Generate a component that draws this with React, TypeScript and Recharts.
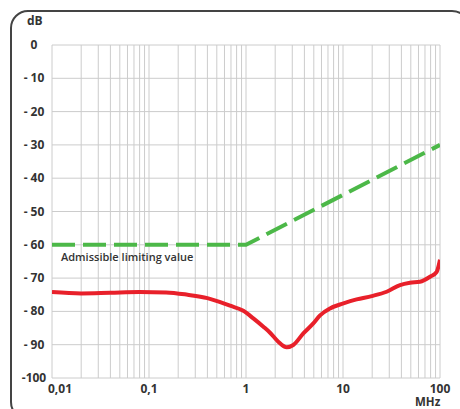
import React from "react";
import { LineChart, Line, XAxis, YAxis, CartesianGrid } from "recharts";

const redFreq = [0.01, 0.02, 0.04, 0.08, 0.15, 0.25, 0.4, 0.684, 0.938, 1.19, 1.51, 1.77, 2.15, 2.63, 3.07, 3.9, 4.94, 5.8, 7.35, 10.1, 13.8, 19.8, 28.2, 38.7, 49, 62, 79, 92.5, 100];
const redDb = [-74.2, -74.6, -74.4, -74.2, -74.3, -75, -76, -78.3, -79.8, -82.1, -84.6, -86.4, -89.1, -90.8, -90.1, -86.6, -83.6, -81.2, -79.1, -77.6, -76.4, -75.4, -74.1, -72.1, -71.4, -71.1, -69.6, -68.1, -64.5];

const limitFreq = [0.01, 1, 100];
const limitDb = [-60, -60, -30];

const yTicks = [0, -10, -20, -30, -40, -50, -60, -70, -80, -90, -100];
const yLabels = ["0", "- 10", "- 20", "- 30", "- 40", "- 50", "- 60", "- 70", "- 80", "- 90", "-100"];

const xDecades = [0.01, 0.1, 1, 10, 100];
const xLabels = ["0,01", "0,1", "1", "10", "100"];

const xGrid = [
  0.01, 0.02, 0.03, 0.04, 0.05, 0.06, 0.07, 0.08, 0.09,
  0.1, 0.2, 0.3, 0.4, 0.5, 0.6, 0.7, 0.8, 0.9,
  1, 2, 3, 4, 5, 6, 7, 8, 9,
  10, 20, 30, 40, 50, 60, 70, 80, 90,
  100,
];

const redData = redFreq.map((x, i) => ({ x, y: redDb[i] }));
const limitData = limitFreq.map((x, i) => ({ x, y: limitDb[i] }));

const FONT = "'Open Sans', sans-serif";

const YTick = (props: any) => {
  const { y, payload } = props;
  const idx = yTicks.indexOf(payload.value);
  if (idx < 0) return null;
  return (
    <text x={34} y={y} dy={4} textAnchor="middle" fontFamily={FONT} fontWeight={700} fontSize={12} fill="#333">
      {yLabels[idx]}
    </text>
  );
};

const XTick = (props: any) => {
  const { x, payload } = props;
  const idx = xDecades.findIndex((d) => Math.abs(d - payload.value) < 1e-9);
  if (idx < 0) return null;
  const shift = idx === 0 ? 8 : 0;
  return (
    <text x={x + shift} y={393} textAnchor="middle" fontFamily={FONT} fontWeight={700} fontSize={12} fill="#333">
      {xLabels[idx]}
    </text>
  );
};

export default function App() {
  return (
    <div style={{ position: "absolute", left: 0, top: 0, width: 460, height: 409, overflow: "hidden", background: "#fff" }}>
      <div
        style={{
          position: "absolute",
          left: 10,
          top: 10,
          width: 460,
          height: 410,
          border: "2px solid #444",
          borderRadius: 18,
          boxSizing: "border-box",
        }}
      />
      <div style={{ position: "absolute", left: 0, top: 0 }}>
        <LineChart width={460} height={409} margin={{ top: 45, right: 20, bottom: 1, left: 0 }}>
          <CartesianGrid stroke="#cccccc" strokeWidth={1} />
          <XAxis
            dataKey="x"
            type="number"
            scale="log"
            domain={[0.01, 100]}
            ticks={xGrid}
            interval={0}
            allowDataOverflow
            axisLine={false}
            tickLine={false}
            height={30}
            tick={<XTick />}
          />
          <YAxis
            type="number"
            domain={[-100, 0]}
            ticks={yTicks}
            interval={0}
            axisLine={false}
            tickLine={false}
            width={52}
            tick={<YTick />}
          />
          <Line
            data={limitData}
            dataKey="y"
            type="linear"
            stroke="#4cb848"
            strokeWidth={4}
            strokeDasharray="23 8"
            dot={false}
            isAnimationActive={false}
          />
          <Line
            data={redData}
            dataKey="y"
            type="monotone"
            stroke="#e8202a"
            strokeWidth={4}
            dot={false}
            isAnimationActive={false}
          />
        </LineChart>
      </div>
      <div style={{ position: "absolute", left: 27, top: 14, lineHeight: "14px", fontFamily: FONT, fontWeight: 700, fontSize: 12, color: "#333" }}>dB</div>
      <div style={{ position: "absolute", left: 415, top: 396, lineHeight: "12px", fontFamily: FONT, fontWeight: 700, fontSize: 11.5, color: "#333" }}>MHz</div>
      <div style={{ position: "absolute", left: 61, top: 250, lineHeight: "14px", fontFamily: FONT, fontWeight: 600, fontSize: 11, color: "#333", whiteSpace: "nowrap" }}>
        Admissible limiting value
      </div>
    </div>
  );
}
